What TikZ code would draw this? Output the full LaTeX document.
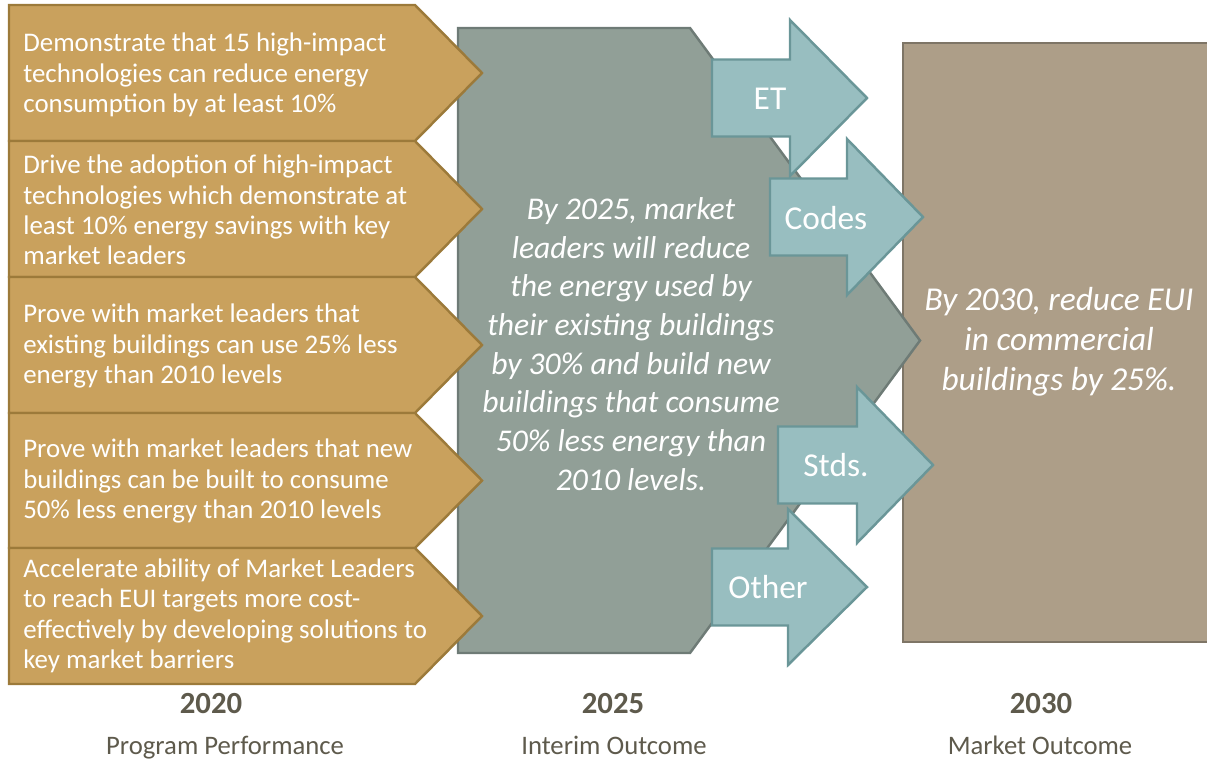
\documentclass[tikz,border=0pt]{standalone}
\usepackage{fontspec}
\setmainfont{Carlito}
\definecolor{plategold}{HTML}{C9A15D}
\definecolor{plateedge}{HTML}{9C7A3A}
\definecolor{interimgrey}{HTML}{919F97}
\definecolor{interimedge}{HTML}{6E7B76}
\definecolor{leverteal}{HTML}{98BEC0}
\definecolor{leveredge}{HTML}{6A9698}
\definecolor{outcomebrown}{HTML}{AD9E88}
\definecolor{outcomeedge}{HTML}{7E7566}
\definecolor{labelgrey}{HTML}{5E5A4C}

\begin{document}
\begin{tikzpicture}[x=0.02cm,y=-0.02cm,
    goalplate/.style={fill=plategold,draw=plateedge,line width=1.4pt},
    interimshape/.style={fill=interimgrey,draw=interimedge,line width=1.4pt},
    leverarrow/.style={fill=leverteal,draw=leveredge,line width=1.4pt},
    outcomebox/.style={fill=outcomebrown,draw=outcomeedge,line width=1.4pt},
    goaltext/.style={anchor=west,align=left,inner sep=0pt,text=white,
      font=\fontsize{15.3pt}{17.3pt}\selectfont},
    boxtext/.style={align=center,inner sep=0pt,text=white,
      font=\fontsize{18pt}{22pt}\selectfont\itshape},
    levertext/.style={inner sep=0pt,text=white,font=\fontsize{19pt}{22pt}\selectfont},
    yearlabel/.style={anchor=base,inner sep=0pt,text=labelgrey,
      font=\fontsize{17.5pt}{20pt}\selectfont\bfseries},
    phaselabel/.style={anchor=base,inner sep=0pt,text=labelgrey,
      font=\fontsize{15.2pt}{18pt}\selectfont}]
  \useasboundingbox (0,0) rectangle (1207,761);
  \def\bodyhalf{38.5}
  \def\headhalf{78}

  % 2030 market outcome
  \draw[outcomebox] (903,43) rectangle (1220,642);

  % 2025 interim outcome
  \draw[interimshape] (458,28) -- (690,28) -- (920,340.5) -- (690,653) -- (458,653) -- cycle;

  % 2020 program performance
  \draw[goalplate] (9,5) -- (415,5) -- (482,73) -- (415,141) -- (9,141) -- cycle;
  \draw[goalplate] (9,141) -- (415,141) -- (482,209) -- (415,277) -- (9,277) -- cycle;
  \draw[goalplate] (9,277) -- (415,277) -- (482,345) -- (415,413) -- (9,413) -- cycle;
  \draw[goalplate] (9,413) -- (415,413) -- (482,480.5) -- (415,548) -- (9,548) -- cycle;
  \draw[goalplate] (9,548) -- (415,548) -- (482,616) -- (415,684) -- (9,684) -- cycle;

  % levers
  \draw[leverarrow] (712,98-\bodyhalf) -- (790,98-\bodyhalf) -- (790,98-\headhalf) -- (867,98)
    -- (790,98+\headhalf) -- (790,98+\bodyhalf) -- (712,98+\bodyhalf) -- cycle;
  \draw[leverarrow] (770,217-\bodyhalf) -- (847,217-\bodyhalf) -- (847,217-\headhalf) -- (923,217)
    -- (847,217+\headhalf) -- (847,217+\bodyhalf) -- (770,217+\bodyhalf) -- cycle;
  \draw[leverarrow] (778,465-\bodyhalf) -- (857,465-\bodyhalf) -- (857,465-\headhalf) -- (933,465)
    -- (857,465+\headhalf) -- (857,465+\bodyhalf) -- (778,465+\bodyhalf) -- cycle;
  \draw[leverarrow] (712,587-\bodyhalf) -- (788,587-\bodyhalf) -- (788,587-\headhalf) -- (867,587)
    -- (788,587+\headhalf) -- (788,587+\bodyhalf) -- (712,587+\bodyhalf) -- cycle;

  \node[goaltext] (demo) at (23,75) {Demonstrate that 15 high-impact\\technologies can reduce energy\\consumption by at least 10\%};
  \node[goaltext] (adopt) at (23,210) {Drive the adoption of high-impact\\technologies which demonstrate at\\least 10\% energy savings with key\\market leaders};
  \node[goaltext] (existing) at (23,346) {Prove with market leaders that\\existing buildings can use 25\% less\\energy than 2010 levels};
  \node[goaltext] (newbldg) at (23,481) {Prove with market leaders that new\\buildings can be built to consume\\50\% less energy than 2010 levels};
  \node[goaltext] (barriers) at (23,616) {Accelerate ability of Market Leaders\\to reach EUI targets more cost-\\effectively by developing solutions to\\key market barriers};

  \node[boxtext] (interim) at (631,344) {By 2025, market\\leaders will reduce\\the energy used by\\their existing buildings\\by 30\% and build new\\buildings that consume\\50\% less energy than\\2010 levels.};
  \node[boxtext,font=\fontsize{19pt}{22.7pt}\selectfont\itshape] (market) at (1059,342) {By 2030, reduce EUI\\in commercial\\buildings by 25\%.};

  \node[levertext] (et) at (770,99) {ET};
  \node[levertext] (codes) at (826,218) {Codes};
  \node[levertext] (stds) at (836,465) {Stds.};
  \node[levertext] (other) at (768,587) {Other};

  \node[yearlabel] (y2020) at (211,713) {2020};
  \node[phaselabel] (perf) at (225,754) {Program Performance};
  \node[yearlabel] (y2025) at (613,713) {2025};
  \node[phaselabel] (interimlbl) at (614,754) {Interim Outcome};
  \node[yearlabel] (y2030) at (1041,713) {2030};
  \node[phaselabel] (marketlbl) at (1040,754) {Market Outcome};
\end{tikzpicture}
\end{document}
